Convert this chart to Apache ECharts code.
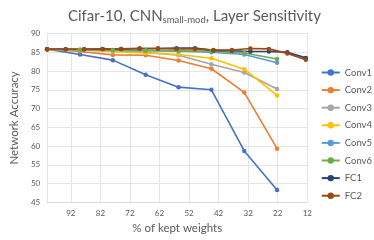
<!DOCTYPE html>
<html><head><meta charset="utf-8">
<script src="https://cdn.jsdelivr.net/npm/echarts@6/dist/echarts.min.js"></script>
<style>html,body{margin:0;padding:0;background:#fff}#c{width:374px;height:240px}</style>
</head><body><div id="c"></div>
<script>
const convX = [100, 88.89, 77.78, 66.67, 55.56, 44.44, 33.33, 22.22];
const fcX = [100, 93.75, 87.5, 81.25, 75, 68.75, 62.5, 56.25, 50, 43.75, 37.5, 31.25, 25, 18.75, 12.5];
const conv1 = [85.8, 84.4, 82.9, 79.0, 75.7, 75.0, 58.7, 48.3];
const conv2 = [85.8, 85.2, 84.3, 84.2, 82.8, 80.6, 74.3, 59.3];
const conv3 = [85.8, 85.6, 85.3, 85.0, 84.2, 81.8, 79.6, 75.2];
const conv4 = [85.8, 85.6, 85.2, 84.8, 84.4, 83.4, 80.5, 73.5];
const conv5 = [85.8, 85.7, 85.5, 85.4, 85.3, 85.0, 84.4, 82.2];
const conv6 = [85.8, 85.7, 85.6, 85.5, 85.4, 85.3, 84.8, 83.2];
const fc1 = [85.8, 85.8, 85.8, 85.9, 85.9, 86.0, 86.0, 86.1, 86.1, 85.5, 85.4, 85.2, 85.2, 85.0, 83.5];
const fc2 = [85.8, 85.8, 85.8, 85.9, 85.9, 86.0, 86.0, 85.9, 85.9, 85.6, 85.6, 86.0, 85.9, 84.7, 83.0];
const seriesNames = ['Conv1','Conv2','Conv3','Conv4','Conv5','Conv6','FC1','FC2'];
const colors = ['#4472C4','#ED7D31','#A5A5A5','#FFC000','#5B9BD5','#70AD47','#264478','#9E480E'];
const xTickLabels = [92, 82, 72, 62, 52, 42, 32, 22, 12];

const allY = [conv1, conv2, conv3, conv4, conv5, conv6, fc1, fc2];
const allX = [convX, convX, convX, convX, convX, convX, fcX, fcX];
const FONT = 'Lato';
const chart = echarts.init(document.getElementById('c'));
chart.setOption({
  animation: false,
  color: colors,
  title: {
    text: '{a|Cifar-10, CNN}{b|small-mod}{a|, Layer Sensitivity}',
    left: 63, top: 3,
    textStyle: {
      fontWeight: 'normal',
      rich: {
        a: {fontFamily: FONT, fontSize: 15, fontWeight: 'normal', color: '#595959'},
        b: {fontFamily: FONT, fontSize: 9.5, fontWeight: 'normal', color: '#595959', padding: [7, 0, 0, 0]}
      }
    }
  },
  legend: {
    orient: 'vertical', right: 2, top: 67.5, padding: 0, align: 'left',
    itemWidth: 18, itemHeight: 8, itemGap: 7.6,
    textStyle: {fontFamily: FONT, fontSize: 9.5, color: '#595959'},
    data: seriesNames
  },
  grid: {left: 40.7, right: 66.7, top: 33.5, bottom: 37.7},
  xAxis: {
    type: 'value', inverse: true, min: 12, max: 100, interval: 10,
    name: '% of kept weights', nameLocation: 'middle', nameGap: 19,
    nameTextStyle: {fontFamily: FONT, fontSize: 11.5, color: '#595959'},
    axisLine: {show: true, lineStyle: {color: '#d9d9d9'}},
    axisTick: {show: false},
    axisLabel: {fontFamily: FONT, fontSize: 8, color: '#595959', margin: 7,
      formatter: v => xTickLabels.includes(v) ? String(v) : ''},
    splitLine: {show: true, lineStyle: {color: '#e5e5e5'}}
  },
  yAxis: {
    type: 'value', min: 45, max: 90, interval: 5,
    name: 'Network Accuracy', nameLocation: 'middle', nameGap: 15,
    nameTextStyle: {fontFamily: FONT, fontSize: 11.5, color: '#595959'},
    axisLine: {show: false}, axisTick: {show: false},
    axisLabel: {fontFamily: FONT, fontSize: 8, color: '#595959', margin: 7},
    splitLine: {lineStyle: {color: '#e5e5e5'}}
  },
  series: seriesNames.map((n, i) => ({
    name: n, type: 'line',
    data: allX[i].map((x, j) => [x, allY[i][j]]),
    symbol: 'circle', symbolSize: 4.5, showSymbol: true,
    lineStyle: {width: 1.6}, itemStyle: {color: colors[i]}
  }))
});
</script></body></html>
